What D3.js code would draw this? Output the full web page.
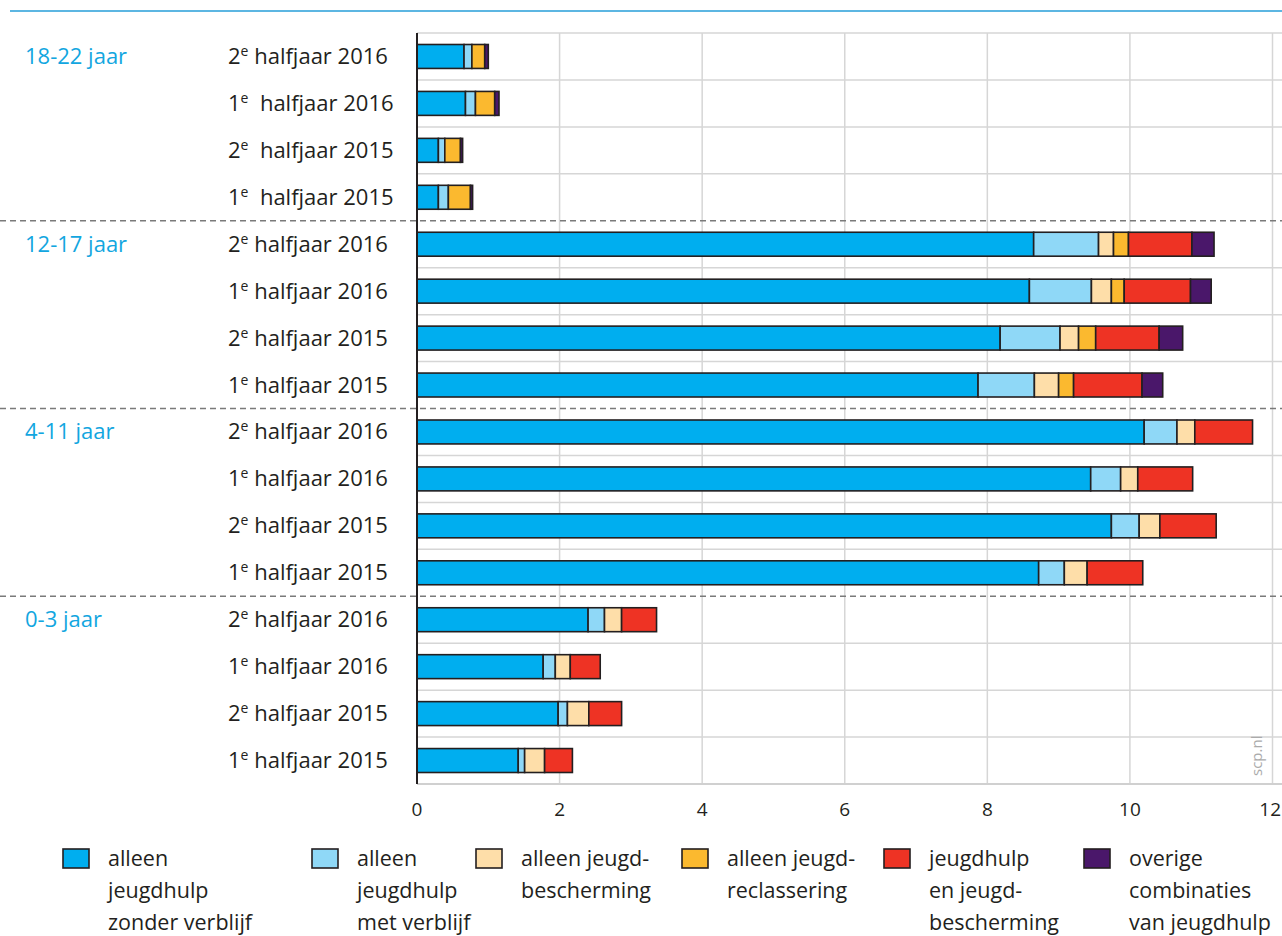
<!DOCTYPE html>
<html><head><meta charset="utf-8">
<script src="https://cdn.jsdelivr.net/npm/d3@7"></script>
<style>
body{margin:0;background:#fff;}
svg text{font-family:"Open Sans",Lato,sans-serif;}
</style></head>
<body><svg id="c" width="1282" height="936"></svg>
<script>
const groups = ["18-22 jaar","12-17 jaar","4-11 jaar","0-3 jaar"];
const rowNum = ["2","1","2","1", "2","1","2","1", "2","1","2","1", "2","1","2","1"];
const rowText = [" halfjaar 2016","  halfjaar 2016","  halfjaar 2015","  halfjaar 2015",
  " halfjaar 2016"," halfjaar 2016"," halfjaar 2015"," halfjaar 2015",
  " halfjaar 2016"," halfjaar 2016"," halfjaar 2015"," halfjaar 2015",
  " halfjaar 2016"," halfjaar 2016"," halfjaar 2015"," halfjaar 2015"];
const seriesNames = ["alleen jeugdhulp zonder verblijf","alleen jeugdhulp met verblijf","alleen jeugdbescherming","alleen jeugdreclassering","jeugdhulp en jeugdbescherming","overige combinaties van jeugdhulp"];
const legendLines = [["alleen","jeugdhulp","zonder verblijf"],["alleen","jeugdhulp","met verblijf"],["alleen jeugd-","bescherming"],["alleen jeugd-","reclassering"],["jeugdhulp","en jeugd-","bescherming"],["overige","combinaties","van jeugdhulp"]];
const colors = ["#00aeef","#8fd8f7","#fedea9","#fbb92f","#ee3324","#4a176a"];
const zonderVerblijf = [0.66,0.68,0.30,0.30, 8.65,8.59,8.18,7.87, 10.20,9.45,9.74,8.72, 2.40,1.77,1.98,1.42];
const metVerblijf    = [0.11,0.14,0.09,0.14, 0.91,0.87,0.84,0.79, 0.46,0.42,0.39,0.36, 0.23,0.17,0.13,0.09];
const jeugdbesch     = [0,0,0,0,             0.21,0.28,0.26,0.34, 0.25,0.24,0.29,0.32, 0.24,0.21,0.30,0.28];
const jeugdreclass   = [0.18,0.27,0.22,0.31, 0.21,0.18,0.24,0.21, 0,0,0,0,             0,0,0,0];
const hulpEnBesch    = [0,0,0,0,             0.89,0.93,0.89,0.96, 0.81,0.77,0.79,0.78, 0.49,0.42,0.46,0.39];
const overige        = [0.05,0.06,0.03,0.03, 0.31,0.29,0.33,0.29, 0,0,0,0,             0,0,0,0];
const xTicks = [0,2,4,6,8,10,12];

const seriesVals = [zonderVerblijf,metVerblijf,jeugdbesch,jeugdreclass,hulpEnBesch,overige];
const rows = rowNum.map((n,i)=>{const o={id:i}; seriesNames.forEach((s,j)=>o[s]=seriesVals[j][i]); return o;});
const stack = d3.stack().keys(seriesNames)(rows);

const svg = d3.select("#c");
const x = d3.scaleLinear().domain([0,12]).range([417,1272.5]);
const y = d3.scaleBand().domain(d3.range(16)).range([33,784]).paddingInner(0.49).paddingOuter(0.245);
const step = y.step();

svg.append("line").attr("x1",10).attr("x2",1282).attr("y1",11).attr("y2",11).attr("stroke","#5cb6e2").attr("stroke-width",2);

svg.append("g").selectAll("line").data(xTicks.slice(1)).join("line")
  .attr("x1",d=>x(d)).attr("x2",d=>x(d)).attr("y1",33).attr("y2",784)
  .attr("stroke","#d6d6d6").attr("stroke-width",1.5);
const bounds = d3.range(17).filter(i=>i%4!==0 || i===0);
svg.append("g").selectAll("line").data(bounds).join("line")
  .attr("x1",417).attr("x2",1282).attr("y1",i=>33+i*step).attr("y2",i=>33+i*step)
  .attr("stroke","#d6d6d6").attr("stroke-width",1.5);
svg.append("line").attr("x1",417).attr("x2",1282).attr("y1",784).attr("y2",784).attr("stroke","#d0d0d0").attr("stroke-width",2);
svg.append("g").selectAll("line").data([4,8,12]).join("line")
  .attr("x1",0).attr("x2",1282).attr("y1",i=>33+i*step).attr("y2",i=>33+i*step)
  .attr("stroke","#7a7a7a").attr("stroke-width",1.5).attr("stroke-dasharray","6,4");

svg.append("g").selectAll("g").data(stack).join("g")
  .attr("fill",(d,i)=>colors[i])
  .selectAll("rect").data(d=>d.filter(p=>p[1]-p[0]>0)).join("rect")
  .attr("x",d=>x(d[0])).attr("width",d=>x(d[1])-x(d[0]))
  .attr("y",d=>y(d.data.id)).attr("height",y.bandwidth())
  .attr("stroke","#231f20").attr("stroke-width",1.6);

svg.append("line").attr("x1",417).attr("x2",417).attr("y1",33).attr("y2",784).attr("stroke","#231f20").attr("stroke-width",2);

svg.append("g").selectAll("text").data(xTicks).join("text")
  .attr("x",d=>d===12 ? 1281 : x(d)).attr("y",816).attr("text-anchor",d=>d===12?"end":"middle")
  .attr("font-size",19).attr("fill","#231f20").text(d=>d);

const rl = svg.append("g").selectAll("text").data(d3.range(16)).join("text")
  .attr("x",228).attr("y",i=>y(i)+y.bandwidth()/2+7.5).attr("font-size",22).attr("fill","#231f20")
  .style("white-space","pre");
rl.append("tspan").text(i=>rowNum[i]);
rl.append("tspan").attr("font-size",14).attr("dy",-8).text("e");
rl.append("tspan").attr("dy",8).text(i=>rowText[i]);

svg.append("g").selectAll("text").data(groups).join("text")
  .attr("x",25).attr("y",(d,i)=>y(i*4)+y.bandwidth()/2+7.5).attr("font-size",22).attr("fill","#12a6e0").text(d=>d);

svg.append("text").attr("transform","translate(1262,776) rotate(-90)").attr("font-size",15).attr("fill","#ababab").text("scp.nl");

const lx = [63,312,476,682,884,1084];
const lg = svg.append("g").selectAll("g").data(seriesNames).join("g");
lg.append("rect").attr("x",(d,i)=>lx[i]).attr("y",849).attr("width",26).attr("height",19)
  .attr("fill",(d,i)=>colors[i]).attr("stroke","#231f20").attr("stroke-width",1.6);
lg.each(function(d,i){
  d3.select(this).selectAll("text").data(legendLines[i]).join("text")
    .attr("x",lx[i]+45).attr("y",(t,k)=>866+k*32).attr("font-size",21.5).attr("fill","#231f20").text(t=>t);
});
</script></body></html>
